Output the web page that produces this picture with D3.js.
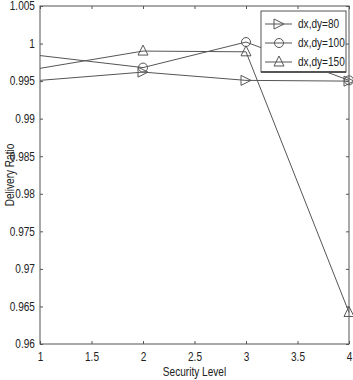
<!DOCTYPE html>
<html>
<head>
<style>
body { margin: 0; background: #fff; }
text { font-family: "Liberation Sans", Arial, sans-serif; fill: #222; }
</style>
</head>
<body>
<div id="chart"></div>
<script src="https://d3js.org/d3.v7.min.js"></script>
<script>
const levels = [1, 2, 3, 4];
const series80 = [0.9951, 0.9962, 0.9951, 0.9950];
const series100 = [0.9984, 0.9968, 1.0002, 0.9951];
const series150 = [0.9967, 0.9990, 0.9989, 0.9642];
const seriesNames = ['dx,dy=80', 'dx,dy=100', 'dx,dy=150'];
const xTicks = [1, 1.5, 2, 2.5, 3, 3.5, 4];
const yTicks = [0.96, 0.965, 0.97, 0.975, 0.98, 0.985, 0.99, 0.995, 1, 1.005];

const width = 353, height = 380;
const margin = { top: 6, right: 4, bottom: 36, left: 40 };
const col = '#555';
const narrow = 'scale(0.84,1)';

const svg = d3.select('#chart').append('svg')
  .attr('width', width).attr('height', height);

const x = d3.scaleLinear().domain([1, 4]).range([margin.left, width - margin.right]);
const y = d3.scaleLinear().domain([0.96, 1.005]).range([height - margin.bottom, margin.top]);

// box
svg.append('rect')
  .attr('x', x(1)).attr('y', y(1.005))
  .attr('width', x(4) - x(1)).attr('height', y(0.96) - y(1.005))
  .attr('fill', 'none').attr('stroke', col).attr('stroke-width', 1);

const yFmt = d => String(+d.toFixed(3));

svg.append('g')
  .attr('transform', `translate(0,${y(0.96)})`)
  .call(d3.axisBottom(x).tickValues(xTicks).tickSize(-3).tickPadding(8).tickFormat(d => d))
  .call(g => g.select('.domain').remove())
  .call(g => g.selectAll('line').attr('stroke', col))
  .call(g => g.selectAll('text').attr('font-size', 12).attr('transform', narrow));

svg.append('g')
  .attr('transform', `translate(0,${y(1.005)})`)
  .call(d3.axisTop(x).tickValues(xTicks).tickSize(-3).tickFormat(''))
  .call(g => g.select('.domain').remove())
  .call(g => g.selectAll('line').attr('stroke', col));

svg.append('g')
  .attr('transform', `translate(${x(1)},0)`)
  .call(d3.axisLeft(y).tickValues(yTicks).tickSize(-3).tickPadding(6).tickFormat(yFmt))
  .call(g => g.select('.domain').remove())
  .call(g => g.selectAll('line').attr('stroke', col))
  .call(g => g.selectAll('text').attr('font-size', 12).attr('transform', narrow));

svg.append('g')
  .attr('transform', `translate(${x(4)},0)`)
  .call(d3.axisRight(y).tickValues(yTicks).tickSize(-3).tickFormat(''))
  .call(g => g.select('.domain').remove())
  .call(g => g.selectAll('line').attr('stroke', col));

const all = [series80, series100, series150];
const line = d3.line().x((d, i) => x(levels[i])).y(d => y(d));

all.forEach(s => {
  svg.append('path').datum(s)
    .attr('d', line).attr('fill', 'none')
    .attr('stroke', col).attr('stroke-width', 1);
});

function marker(g, kind, cx, cy) {
  const r = 5;
  if (kind === 0) {
    g.append('path').attr('d', `M${cx - r},${cy - r}L${cx + r},${cy}L${cx - r},${cy + r}Z`);
  } else if (kind === 1) {
    g.append('circle').attr('cx', cx).attr('cy', cy).attr('r', r - 0.5);
  } else {
    g.append('path').attr('d', `M${cx},${cy - r - 1}L${cx + r},${cy + r - 1}L${cx - r},${cy + r - 1}Z`);
  }
}

const mk = svg.append('g').attr('fill', 'none').attr('stroke', col).attr('stroke-width', 1);
all.forEach((s, k) => {
  s.forEach((v, i) => {
    if (i === 0) return;
    marker(mk, k, x(levels[i]), y(v));
  });
});

// legend
const lg = svg.append('g');
lg.append('rect').attr('x', 261).attr('y', 11).attr('width', 85).attr('height', 61)
  .attr('fill', '#fff').attr('stroke', col);
lg.append('line').attr('x1', 261).attr('x2', 346).attr('y1', 72).attr('y2', 72)
  .attr('stroke', col).attr('stroke-width', 2);
const lm = lg.append('g').attr('fill', 'none').attr('stroke', col);
seriesNames.forEach((n, k) => {
  const ly = 24 + k * 19;
  lg.append('line').attr('x1', 265).attr('x2', 292).attr('y1', ly).attr('y2', ly)
    .attr('stroke', col);
  marker(lm, k, 279, ly);
  lg.append('text').attr('transform', `translate(298,${ly + 4}) ${narrow}`)
    .attr('font-size', 12).text(n);
});

svg.append('text')
  .attr('transform', `translate(14,${(y(0.96) + y(1.005)) / 2}) rotate(-90) ${narrow}`)
  .attr('text-anchor', 'middle').attr('font-size', 12)
  .text('Delivery Ratio');

svg.append('text')
  .attr('transform', `translate(${(x(1) + x(4)) / 2},376) ${narrow}`)
  .attr('text-anchor', 'middle').attr('font-size', 12)
  .text('Security Level');
</script>
</body>
</html>
